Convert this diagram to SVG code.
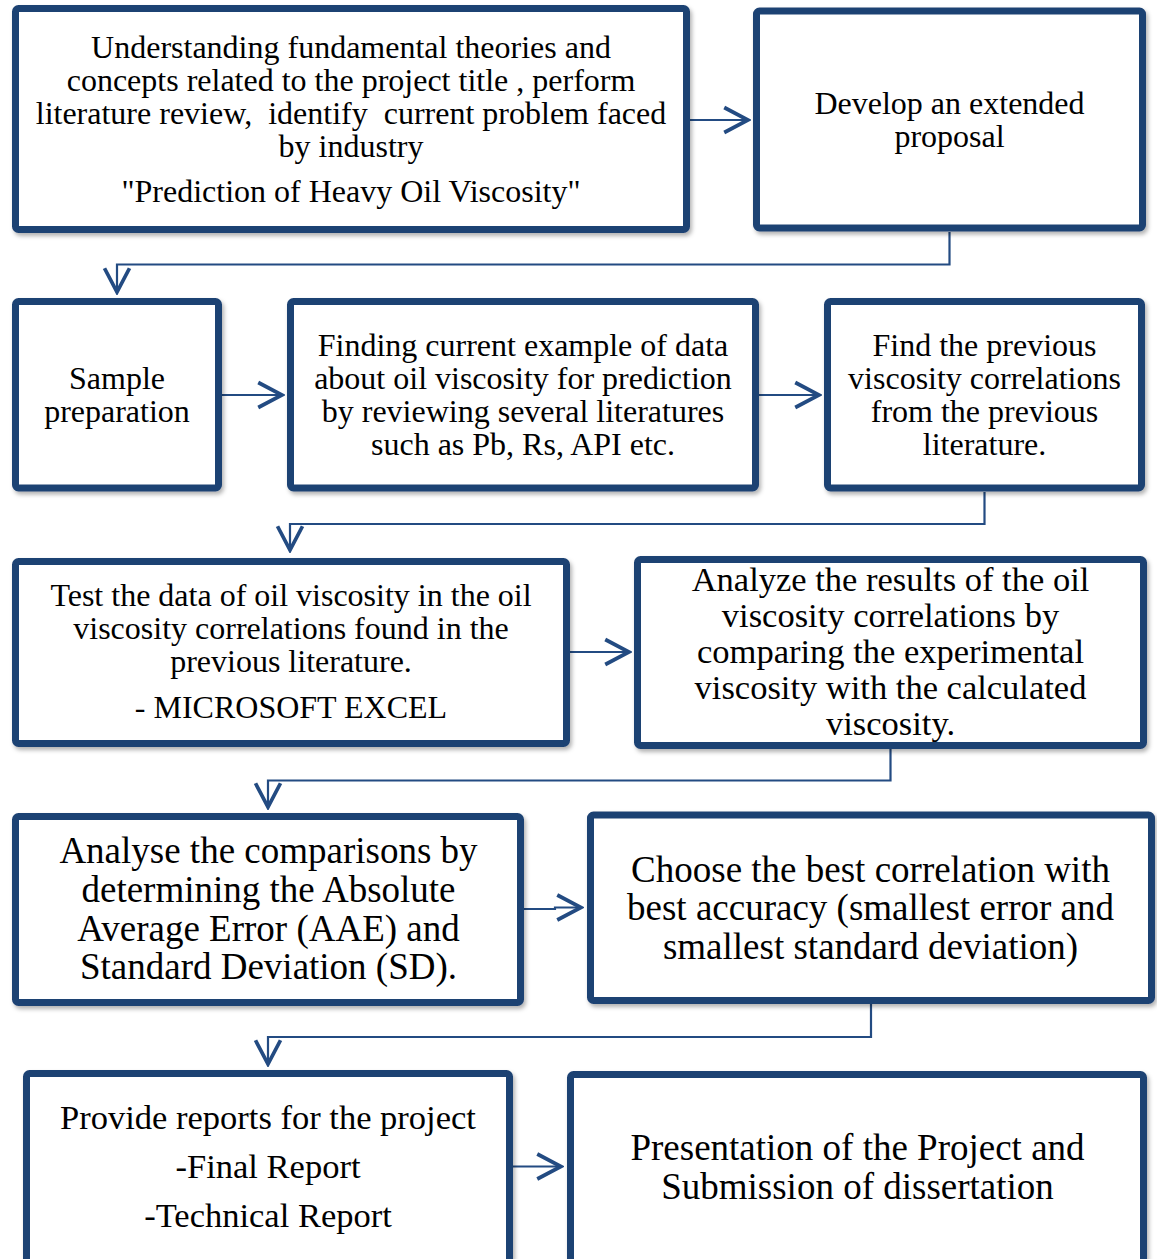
<svg xmlns="http://www.w3.org/2000/svg" width="1157" height="1259" viewBox="0 0 1157 1259">
<style>
.box{fill:#fff;stroke:#1f4273;stroke-width:7;filter:url(#sh)}
.t{font-family:"Liberation Serif","Times New Roman",serif;fill:#000;text-anchor:middle;white-space:pre}
.s32{font-size:32px}
.s34{font-size:34.5px}
.s37{font-size:37px}
.c{fill:none;stroke:#234b82;stroke-width:2.2;marker-end:url(#ah)}
</style>
<defs>
<filter id="sh" x="-5%" y="-5%" width="110%" height="115%">
<feDropShadow dx="2" dy="3" stdDeviation="2" flood-color="#000" flood-opacity="0.3"/>
</filter>
<marker id="ah" markerUnits="userSpaceOnUse" markerWidth="30" markerHeight="30" viewBox="-22 -12 24 24" refX="0" refY="0" orient="auto">
<path d="M-19,-10 L0,0 L-19,10" fill="none" stroke="#234b82" stroke-width="3"/>
</marker>
</defs>
<rect width="1157" height="1259" fill="#fff"/>

<g id="connectors">
<path class="c" d="M690,120 H748"/>
<path class="c" d="M949.5,232 V264.5 H117 V292"/>
<path class="c" d="M222,395 H282"/>
<path class="c" d="M759,395 H819"/>
<path class="c" d="M984.5,492 V524 H290 V550"/>
<path class="c" d="M570,652 H629"/>
<path class="c" d="M890.5,749 V780.5 H268 V807"/>
<path class="c" d="M524,909 H555 V907.5 H581"/>
<path class="c" d="M871,1004 V1037 H268 V1064"/>
<path class="c" d="M513,1166.5 H561"/>
</g>

<g id="n1">
<rect class="box" x="15.5" y="8.5" width="671" height="221" rx="3"/>
<text class="t s32" x="351" y="58">Understanding fundamental theories and</text>
<text class="t s32" x="351" y="91">concepts related to the project title , perform</text>
<text class="t s32" x="351" y="124">literature review,  identify  current problem faced</text>
<text class="t s32" x="351" y="157">by industry</text>
<text class="t s32" x="351" y="202">"Prediction of Heavy Oil Viscosity"</text>
</g>

<g id="n2">
<rect class="box" x="756.5" y="11" width="386" height="217" rx="3"/>
<text class="t s32" x="949.5" y="113.5">Develop an extended</text>
<text class="t s32" x="949.5" y="146.5">proposal</text>
</g>

<g id="n3">
<rect class="box" x="15.5" y="301.5" width="203" height="186.5" rx="3"/>
<text class="t s32" x="117" y="389">Sample</text>
<text class="t s32" x="117" y="422">preparation</text>
</g>

<g id="n4">
<rect class="box" x="290.5" y="301.5" width="465" height="186.5" rx="3"/>
<text class="t s32" x="523" y="355.5">Finding current example of data</text>
<text class="t s32" x="523" y="388.5">about oil viscosity for prediction</text>
<text class="t s32" x="523" y="421.5">by reviewing several literatures</text>
<text class="t s32" x="523" y="454.5">such as Pb, Rs, API etc.</text>
</g>

<g id="n5">
<rect class="box" x="827.5" y="301.5" width="314" height="186.5" rx="3"/>
<text class="t s32" x="984.5" y="355.5">Find the previous</text>
<text class="t s32" x="984.5" y="388.5">viscosity correlations</text>
<text class="t s32" x="984.5" y="421.5">from the previous</text>
<text class="t s32" x="984.5" y="454.5">literature.</text>
</g>

<g id="n6">
<rect class="box" x="15.5" y="561.5" width="551" height="182" rx="3"/>
<text class="t s32" x="291" y="606">Test the data of oil viscosity in the oil</text>
<text class="t s32" x="291" y="639">viscosity correlations found in the</text>
<text class="t s32" x="291" y="672">previous literature.</text>
<text class="t s32" x="291" y="718">- MICROSOFT EXCEL</text>
</g>

<g id="n7">
<rect class="box" x="637.5" y="559.5" width="506" height="186" rx="3"/>
<text class="t s34" x="890.5" y="591">Analyze the results of the oil</text>
<text class="t s34" x="890.5" y="627">viscosity correlations by</text>
<text class="t s34" x="890.5" y="663">comparing the experimental</text>
<text class="t s34" x="890.5" y="699">viscosity with the calculated</text>
<text class="t s34" x="890.5" y="735">viscosity.</text>
</g>

<g id="n8">
<rect class="box" x="15.5" y="816.5" width="505" height="186" rx="3"/>
<text class="t s37" x="268.5" y="863">Analyse the comparisons by</text>
<text class="t s37" x="268.5" y="901.5">determining the Absolute</text>
<text class="t s37" x="268.5" y="940.5">Average Error (AAE) and</text>
<text class="t s37" x="268.5" y="979">Standard Deviation (SD).</text>
</g>

<g id="n9">
<rect class="box" x="590.5" y="815" width="561" height="185.5" rx="3"/>
<text class="t s37" x="870.5" y="881.5">Choose the best correlation with</text>
<text class="t s37" x="870.5" y="920">best accuracy (smallest error and</text>
<text class="t s37" x="870.5" y="958.5">smallest standard deviation)</text>
</g>

<g id="n10">
<rect class="box" x="26.5" y="1073.5" width="483" height="200" rx="3"/>
<text class="t s34" x="268" y="1129">Provide reports for the project</text>
<text class="t s34" x="268" y="1178">-Final Report</text>
<text class="t s34" x="268" y="1227">-Technical Report</text>
</g>

<g id="n11">
<rect class="box" x="570.5" y="1074.5" width="573" height="200" rx="3"/>
<text class="t s37" x="857.5" y="1159.5">Presentation of the Project and</text>
<text class="t s37" x="857.5" y="1198.5">Submission of dissertation</text>
</g>
</svg>
